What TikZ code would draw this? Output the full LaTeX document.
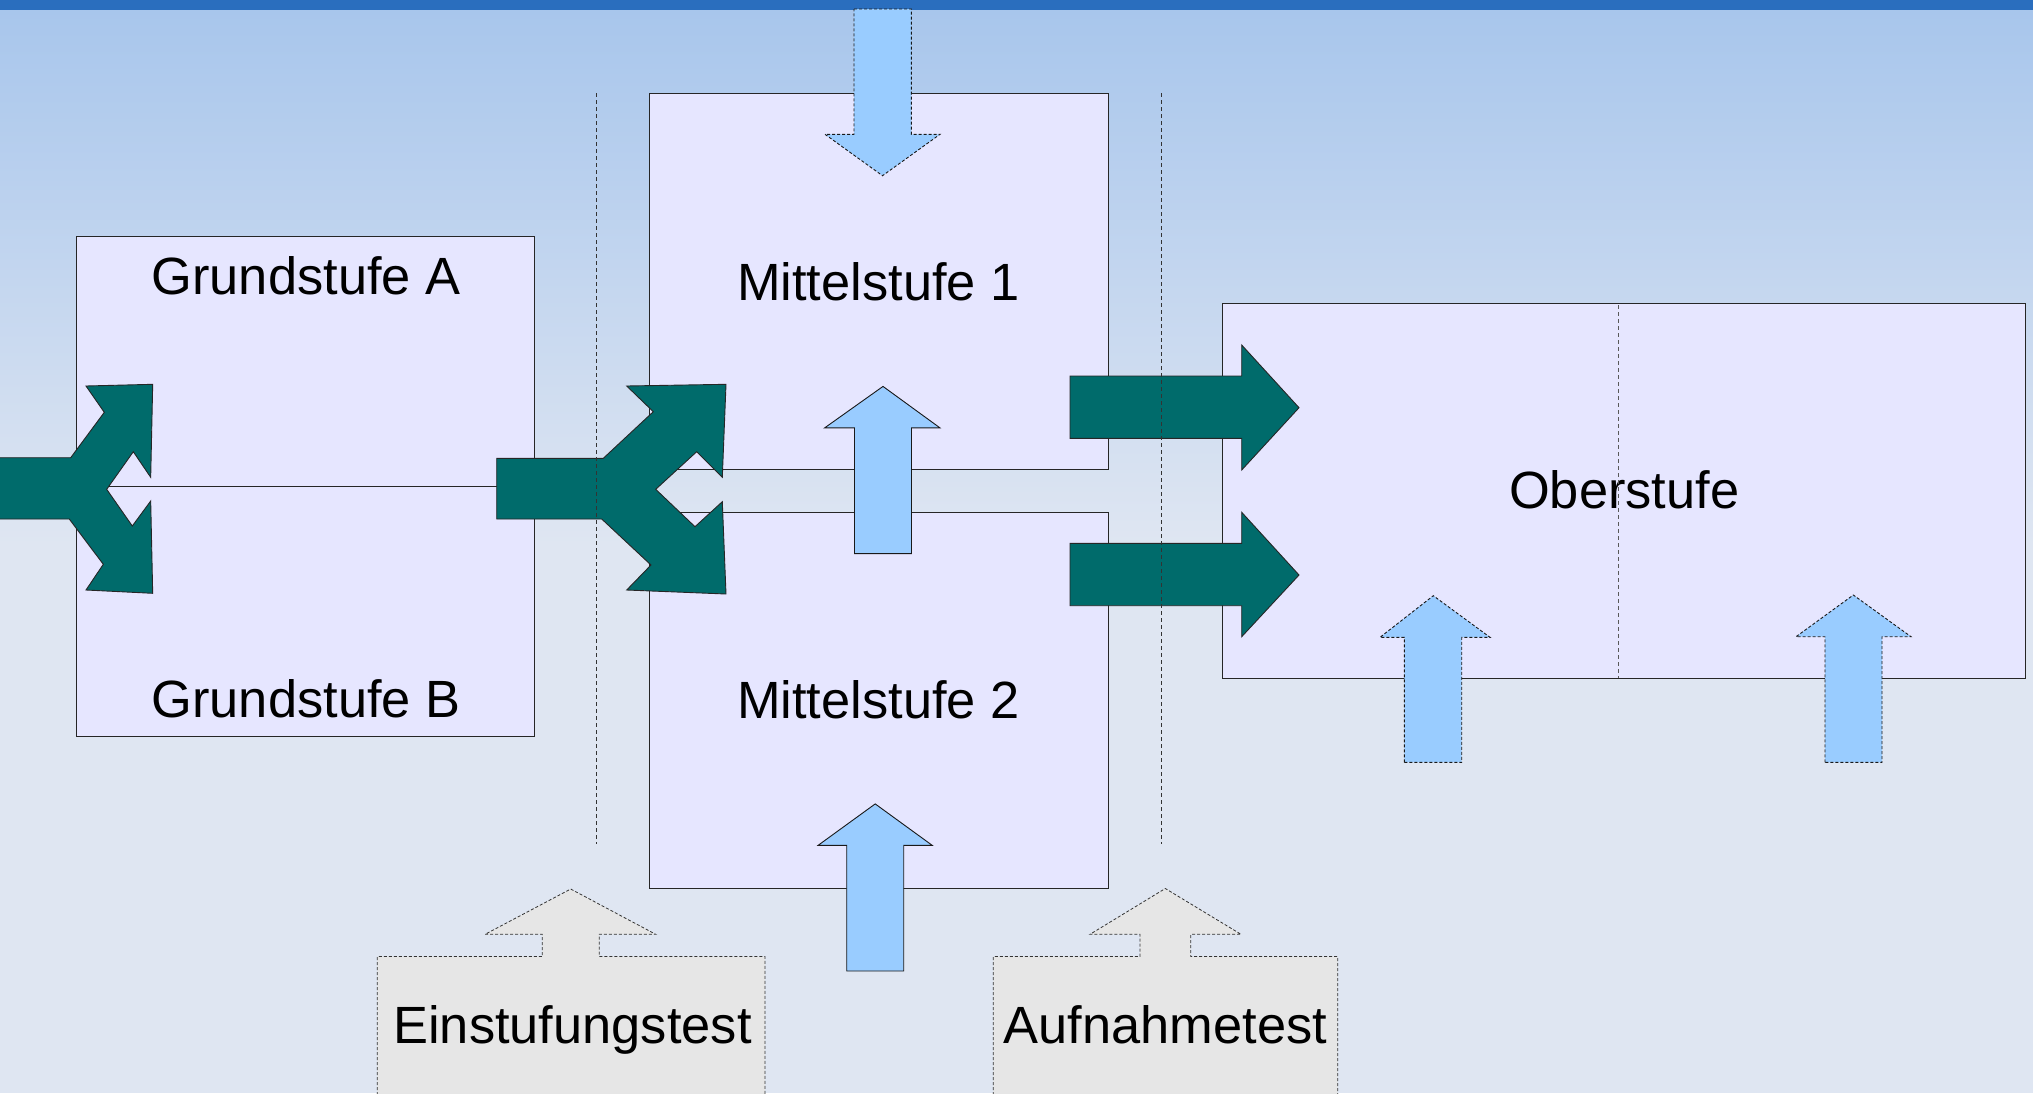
\documentclass[tikz,border=0pt]{standalone}
\usepackage{fontspec}
\setmainfont{Liberation Sans}
\definecolor{lav}{HTML}{E6E6FF}
\definecolor{tealc}{HTML}{006B6B}
\definecolor{lblue}{HTML}{99CCFF}
\definecolor{greyc}{HTML}{E6E6E6}
\definecolor{bgtop}{HTML}{A8C6EC}
\definecolor{bgbot}{HTML}{DFE6F2}
\definecolor{topbar}{HTML}{2A6EBE}
\begin{document}
\begin{tikzpicture}[x=1pt,y=-1pt,
  box/.style={draw=black!85, line width=0.9pt, fill=lav},
  tealarrow/.style={draw=black!85, line width=0.9pt, fill=tealc, line join=miter},
  bluearr/.style={draw=black!90, line width=0.9pt, fill=lblue},
  bluedash/.style={bluearr, dash pattern=on 3pt off 2pt},
  sepline/.style={draw=black!80, line width=0.8pt, dash pattern=on 4pt off 3pt},
  greyarr/.style={draw=black!80, line width=0.8pt, dash pattern=on 3pt off 2pt, fill=greyc},
  lbl/.style={font=\fontsize{52.4}{60}\selectfont, inner sep=0pt, anchor=base}
]
\useasboundingbox (0,0) rectangle (2033,1093);
% background
\fill[top color=bgtop, bottom color=bgbot] (0,10) rectangle (2033,545);
\fill[bgbot] (0,545) rectangle (2033,1093);
\fill[topbar] (0,0) rectangle (2033,10);

% boxes
\draw[box] (76.5,236) rectangle (534.5,486.5);
\draw[box] (76.5,486.5) rectangle (534.5,736.5);
\draw[box] (649.5,93.5) rectangle (1108.5,469.5);
\draw[box] (649.5,512) rectangle (1108.5,888);
\draw[box] (1222.5,303.5) rectangle (2025.5,678);

% labels
\node[lbl] (gA) at (306,294.3) {Grundstufe A};
\node[lbl] (gB) at (306,717.6) {Grundstufe B};
\node[lbl] (m1) at (878.3,300) {Mittelstufe 1};
\node[lbl] (m2) at (878.3,718) {Mittelstufe 2};
\node[lbl] (ob) at (1624.2,508.3) {Oberstufe};

\draw[sepline, draw=black!65] (1618.7,305) -- (1618.7,678);

% teal arrows
\draw[tealarrow] (-2,457.7) -- (70.7,457.7) -- (104.3,412.3) -- (86,386) -- (152.7,384.3)
  -- (150.7,477.3) -- (133.3,451.7) -- (106.7,489.3) -- (132.3,526) -- (150.7,501)
  -- (152.7,593.3) -- (86,590) -- (103.3,564.3) -- (69.3,519) -- (-2,519) -- cycle;
\draw[tealarrow] (496.7,458.3) -- (603.3,458.3) -- (653.3,411.7) -- (626.7,386) -- (726,384.3)
  -- (722.3,477.3) -- (696.7,451.7) -- (655.7,489.3) -- (695,526.7) -- (722.3,501.7)
  -- (726,594) -- (626.7,590) -- (651,565) -- (601.7,519) -- (496.7,519) -- cycle;
\draw[tealarrow] (1070,376) -- (1241.7,376) -- (1241.7,345) -- (1299,407.7) -- (1241.7,470)
  -- (1241.7,438.3) -- (1070,438.3) -- cycle;
\draw[tealarrow] (1070,543.3) -- (1241.7,543.3) -- (1241.7,512.3) -- (1299,575) -- (1241.7,636.7)
  -- (1241.7,605.7) -- (1070,605.7) -- cycle;

% dashed separators
\draw[sepline] (596.4,93) -- (596.4,844);
\draw[sepline] (1161.7,93) -- (1161.7,844);

% light blue arrows
\draw[bluedash] (854,9) -- (911.3,9) -- (911.3,134.3) -- (940,134.3) -- (882.5,175.7)
  -- (825,134.3) -- (854,134.3) -- cycle;
\draw[bluearr] (854.5,553.6) -- (854.5,427.9) -- (824.6,427.9) -- (883,386.4) -- (940,427.9)
  -- (911.5,427.9) -- (911.5,553.6) -- cycle;
\draw[bluearr] (846.7,971) -- (846.7,845.4) -- (818,845.4) -- (875.2,803.9) -- (932.3,845.4)
  -- (903.7,845.4) -- (903.7,971) -- cycle;
\draw[bluedash] (1404.3,762.3) -- (1404.3,637.3) -- (1380,637.3) -- (1433.3,595.7) -- (1490,637.3)
  -- (1461.7,637.3) -- (1461.7,762.3) -- cycle;
\draw[bluedash] (1825,762.3) -- (1825,636.7) -- (1796,636.7) -- (1853.3,595) -- (1911,636.7)
  -- (1882,636.7) -- (1882,762.3) -- cycle;

% grey test shapes
\draw[greyarr] (377.3,1100) -- (377.3,956.5) -- (542.3,956.5) -- (542.3,934.3) -- (485,934.3)
  -- (570.7,889) -- (655.7,934.3) -- (599.3,934.3) -- (599.3,956.5) -- (765,956.5)
  -- (765,1100) -- cycle;
\draw[greyarr] (993.3,1100) -- (993.3,956.5) -- (1140,956.5) -- (1140,934.3) -- (1090,934.3)
  -- (1165.3,888.5) -- (1241,934.3) -- (1190.7,934.3) -- (1190.7,956.5) -- (1337.7,956.5)
  -- (1337.7,1100) -- cycle;
\node[lbl] (et) at (572.5,1043.3) {Einstufungstest};
\node[lbl] (at) at (1165.5,1043.3) {Aufnahmetest};
\end{tikzpicture}
\end{document}
